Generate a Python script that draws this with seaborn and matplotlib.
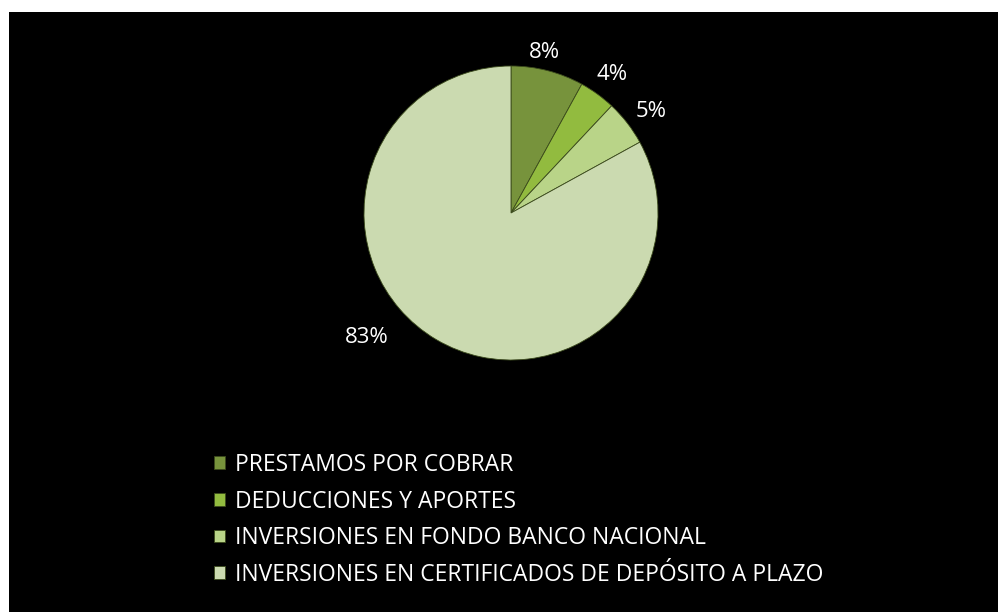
import matplotlib
matplotlib.use("Agg")
import matplotlib.pyplot as plt
from matplotlib.patches import Rectangle
import seaborn as sns

categorias = [
    "PRESTAMOS POR COBRAR",
    "DEDUCCIONES Y APORTES",
    "INVERSIONES EN FONDO BANCO NACIONAL",
    "INVERSIONES EN CERTIFICADOS DE DEPÓSITO A PLAZO",
]
porcentajes = [8, 4, 5, 83]
colores = ["#77933c", "#92bb3f", "#b9d488", "#cbdab0"]

# posiciones de las etiquetas (coordenadas del eje, radio = 1)
pos_etiquetas = [(0.23, 1.09), (0.69, 0.94), (0.95, 0.69), (-0.98, -0.85)]

sns.set_style("dark")
plt.rcParams["font.family"] = ["Open Sans", "DejaVu Sans"]

fig = plt.figure(figsize=(9.98, 6.12), dpi=100, facecolor="white")
# fondo negro con margen blanco arriba e izquierda
fig.patches.append(Rectangle((9 / 998, 0), 1, 1 - 12 / 612, transform=fig.transFigure,
                             facecolor="black", edgecolor="none", zorder=-5))

cx, cy, r = 511, 213, 147
ax = fig.add_axes([(cx - r) / 998, (612 - cy - r) / 612, 2 * r / 998, 2 * r / 612])
ax.set_facecolor("none")
ax.axis("off")

wedges, textos, autotextos = ax.pie(
    porcentajes, colors=colores, startangle=90, counterclock=False,
    autopct="%1.0f%%", pctdistance=1.15,
    wedgeprops=dict(edgecolor="#3b4a1c", linewidth=0.6),
    textprops=dict(color="white", fontsize=16),
)
for t, (px, py) in zip(autotextos, pos_etiquetas):
    t.set_position((px, py))
ax.set_xlim(-1, 1)
ax.set_ylim(-1, 1)
ax.set_aspect("equal")

fig.legend(wedges, categorias, loc="upper left", bbox_to_anchor=(214 / 998, 1 - 453 / 612),
           frameon=False, labelcolor="white", fontsize=16.5,
           handlelength=0.48, handleheight=0.48, handletextpad=0.45,
           labelspacing=0.55, borderpad=0, borderaxespad=0)

fig.savefig("out.png", dpi=100, facecolor="white")
